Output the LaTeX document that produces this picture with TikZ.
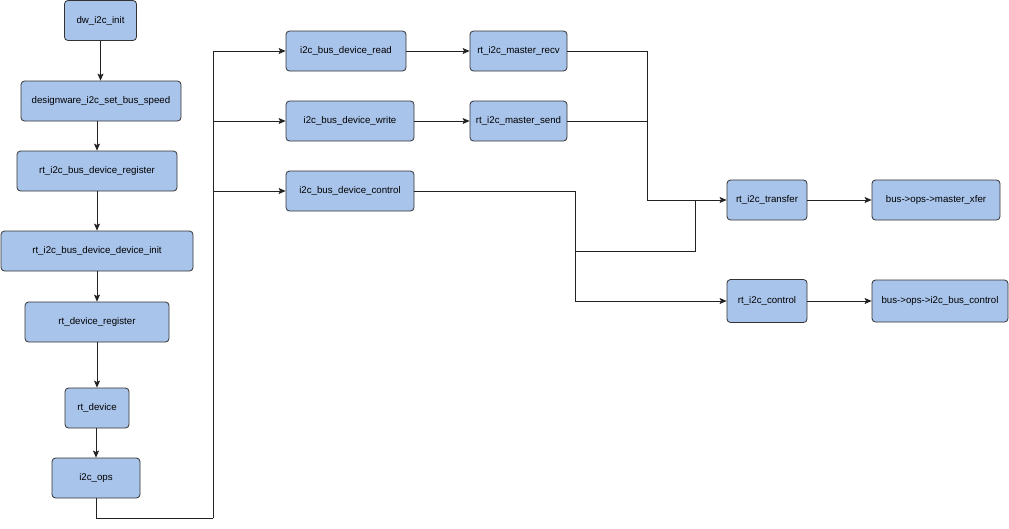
\documentclass[tikz,border=0pt]{standalone}
\usepackage{fontspec}
\setmainfont{Liberation Sans}
\usetikzlibrary{arrows.meta}
\definecolor{boxblue}{HTML}{A9C4EB}
\definecolor{wire}{HTML}{222222}
\begin{document}
\begin{tikzpicture}[x=1pt,y=-1pt,font=\fontsize{9.7}{11}\selectfont]
	\tikzset{fn/.style={draw=black!80,fill=boxblue,rounded corners=3.5pt,minimum height=40,inner sep=0pt,line width=0.8pt}}
	\tikzset{go/.style={draw=wire,line width=0.75pt,-{Stealth[length=7pt,width=6pt,inset=1.5pt]}}}
	\tikzset{ln/.style={draw=wire,line width=0.75pt}}
	\useasboundingbox (0,0)rectangle(1009,528);
	% init chain
	\foreach \n/\x/\y/\w/\t in {init/100.5/20.5/72/dw\_i2c\_init,
		speed/101/101/160/designware\_i2c\_set\_bus\_speed,
		reg/97/171/160/rt\_i2c\_bus\_device\_register,
		devinit/97/251/192/rt\_i2c\_bus\_device\_device\_init,
		devreg/97/322/144/rt\_device\_register,
		dev/97/408/64/rt\_device,
		ops/96/478/88/i2c\_ops}
	\node[fn,minimum width=\w] (\n) at (\x,\y) {\t};
	% bus device api
	\foreach \n/\x/\y/\w/\t in {read/346/51/120/i2c\_bus\_device\_read,
		write/350/121/128/i2c\_bus\_device\_write,
		ctrl/350/191/128/i2c\_bus\_device\_control,
		recv/518.5/51/97/rt\_i2c\_master\_recv,
		send/518.5/121/97/rt\_i2c\_master\_send,
		xfer/767/200/80/rt\_i2c\_transfer,
		mxfer/936/200/128/bus->ops->master\_xfer}
	\node[fn,minimum width=\w] (\n) at (\x,\y) {\t};
	\node[fn,minimum width=80,minimum height=43] (ictl) at (767,301) {rt\_i2c\_control};
	\node[fn,minimum width=136,minimum height=42] (bctl) at (940,301) {bus->ops->i2c\_bus\_control};
	% arrows down the left
	\draw[go](init.south)--(init.south|-speed.north);
	\foreach \a/\b in {speed/reg,reg/devinit,devinit/devreg,devreg/dev,dev/ops}
	\draw[go](\b.north|-\a.south)--(\b.north);
	% trunk
	\coordinate (trunk) at (213,518);
	\draw[ln](ops.south)|-(trunk);
	\foreach \d in {read,write,ctrl}
	\draw[go](trunk)|-(\d.west);
	\draw[go](read.east)--(recv.west);
	\draw[go](write.east)--(send.west);
	% merge into transfer
	\coordinate (merge) at (647,200);
	\coordinate (split) at (575,251);
	\coordinate (join) at (695,251);
	\draw[ln](recv.east)-|(merge);
	\draw[ln](send.east)-|(merge);
	\draw[go](merge)--(xfer.west);
	\draw[ln](ctrl.east)-|(split)--(join)--(join|-xfer.west);
	\draw[go](split)|-(ictl.west);
	\draw[go](xfer.east)--(mxfer.west);
	\draw[go](ictl.east)--(bctl.west);
\end{tikzpicture}
\end{document}
